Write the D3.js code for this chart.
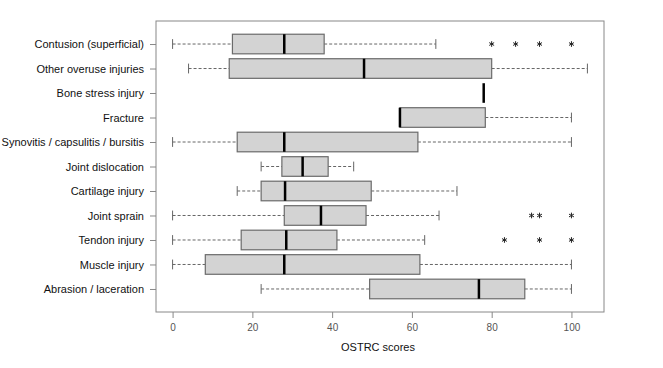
<!DOCTYPE html>
<html>
<head>
<meta charset="utf-8">
<script src="https://cdn.jsdelivr.net/npm/d3@7"></script>
<style>
  body { margin: 0; background: #fff; }
  text { font-family: "Liberation Sans", Arial, sans-serif; }
</style>
</head>
<body>
<script>
// Categories, top first
const categories = [
  'Contusion (superficial)', 'Other overuse injuries', 'Bone stress injury', 'Fracture',
  'Synovitis / capsulitis / bursitis', 'Joint dislocation', 'Cartilage injury', 'Joint sprain',
  'Tendon injury', 'Muscle injury', 'Abrasion / laceration'
];
const whiskerLow = [0, 4, 78, 57, 0, 22.2, 16.2, 0, 0, 0, 22.2];
const q1 =         [15, 14.2, 78, 57, 16.2, 27.4, 22.2, 28, 17.2, 8.2, 49.4];
const median =     [28, 48, 78, 57, 28, 32.6, 28.2, 37.2, 28.5, 28, 76.8];
const q3 =         [38, 80, 78, 78.4, 61.5, 39, 49.8, 48.5, 41.2, 62, 88.3];
const whiskerHigh = [66, 104, 78, 100, 100, 45.4, 71.3, 66.8, 63.2, 100, 100];
const outliers = [
  [80, 86, 92, 100], [], [], [], [], [], [], [90, 92, 100], [83.2, 92, 100], [], []
];
const xTicks = [0, 20, 40, 60, 80, 100];

const width = 663, height = 368;
const plotLeft = 156, plotRight = 604, plotTop = 21, plotBottom = 312;

const svg = d3.select('body').append('svg')
  .attr('width', width)
  .attr('height', height);

const x = d3.scaleLinear().domain([-4.16, 108.16]).range([plotLeft, plotRight]);
// position 11 at top, 1 at bottom
const y = d3.scaleLinear().domain([0.06, 11.94]).range([plotBottom, plotTop]);
const pos = i => y(categories.length - i);

const boxH = 0.8 * (y(0) - y(1));
const capH = 0.4 * (y(0) - y(1));

const data = categories.map((c, i) => ({
  name: c, lo: whiskerLow[i], q1: q1[i], med: median[i], q3: q3[i], hi: whiskerHigh[i], out: outliers[i], i
}));

const g = svg.selectAll('g.box').data(data).enter().append('g').attr('class', 'box');

// whiskers
g.filter(d => d.lo < d.q1).append('line')
  .attr('x1', d => x(d.lo)).attr('x2', d => x(d.q1))
  .attr('y1', d => pos(d.i)).attr('y2', d => pos(d.i))
  .attr('stroke', '#666').attr('stroke-dasharray', '3,2').attr('stroke-width', 1);
g.filter(d => d.hi > d.q3).append('line')
  .attr('x1', d => x(d.q3)).attr('x2', d => x(d.hi))
  .attr('y1', d => pos(d.i)).attr('y2', d => pos(d.i))
  .attr('stroke', '#666').attr('stroke-dasharray', '3,2').attr('stroke-width', 1);

// caps
g.filter(d => d.lo < d.q1).append('line')
  .attr('x1', d => x(d.lo)).attr('x2', d => x(d.lo))
  .attr('y1', d => pos(d.i) - capH / 2).attr('y2', d => pos(d.i) + capH / 2)
  .attr('stroke', '#666');
g.filter(d => d.hi > d.q3).append('line')
  .attr('x1', d => x(d.hi)).attr('x2', d => x(d.hi))
  .attr('y1', d => pos(d.i) - capH / 2).attr('y2', d => pos(d.i) + capH / 2)
  .attr('stroke', '#666');

// boxes
g.filter(d => d.q3 > d.q1).append('rect')
  .attr('x', d => x(d.q1))
  .attr('y', d => pos(d.i) - boxH / 2)
  .attr('width', d => x(d.q3) - x(d.q1))
  .attr('height', boxH)
  .attr('fill', '#d3d3d3')
  .attr('stroke', '#6b6b6b')
  .attr('stroke-width', 1.2);

// medians
g.append('line')
  .attr('x1', d => x(d.med)).attr('x2', d => x(d.med))
  .attr('y1', d => pos(d.i) - boxH / 2).attr('y2', d => pos(d.i) + boxH / 2)
  .attr('stroke', '#000').attr('stroke-width', 2.5);

// outliers
const star = d3.symbol().type(d3.symbolAsterisk).size(22);
g.selectAll('path.out')
  .data(d => d.out.map(v => ({ v, i: d.i })))
  .enter().append('path')
  .attr('class', 'out')
  .attr('d', star)
  .attr('transform', d => `translate(${x(d.v)},${pos(d.i)})`)
  .attr('fill', 'none')
  .attr('stroke', '#222')
  .attr('stroke-width', 1);

// frame
svg.append('rect')
  .attr('x', plotLeft).attr('y', plotTop)
  .attr('width', plotRight - plotLeft).attr('height', plotBottom - plotTop)
  .attr('fill', 'none').attr('stroke', '#888').attr('stroke-width', 1);

// x axis
const xAxis = svg.append('g')
  .attr('transform', `translate(0,${plotBottom})`)
  .call(d3.axisBottom(x).tickValues(xTicks).tickSize(6).tickPadding(6));
xAxis.select('.domain').remove();
xAxis.selectAll('line').attr('stroke', '#888');
xAxis.selectAll('text').attr('fill', '#555').style('font-size', '10px')
  .style('font-family', '"Liberation Sans", Arial, sans-serif');

// y axis labels
const yAxis = svg.append('g')
  .attr('transform', `translate(${plotLeft},0)`)
  .call(d3.axisLeft(y).tickValues(d3.range(1, categories.length + 1))
    .tickFormat(v => categories[categories.length - v]).tickSize(6).tickPadding(6));
yAxis.select('.domain').remove();
yAxis.selectAll('line').attr('stroke', '#888');
yAxis.selectAll('text').attr('fill', '#111').style('font-size', '11px')
  .style('font-family', '"Liberation Sans", Arial, sans-serif');

// title
svg.append('text')
  .attr('x', (plotLeft + plotRight) / 2 - 2)
  .attr('y', 351)
  .attr('text-anchor', 'middle')
  .attr('fill', '#111')
  .style('font-size', '11px')
  .text('OSTRC scores');
</script>
</body>
</html>
